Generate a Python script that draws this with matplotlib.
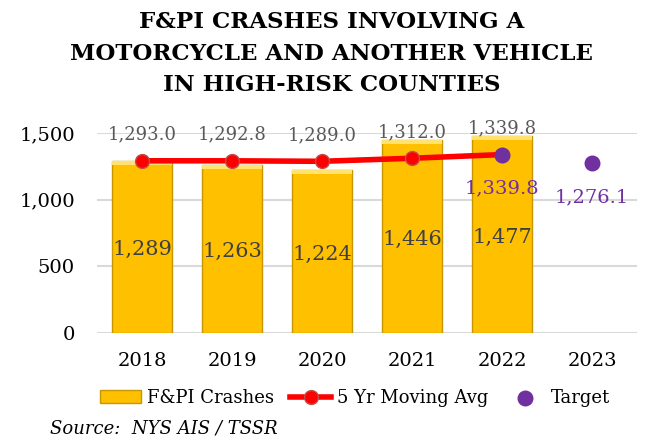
import numpy as np
import matplotlib.pyplot as plt

plt.rcParams['font.family'] = ['DejaVu Serif']

years = ['2018', '2019', '2020', '2021', '2022', '2023']
crashes = [1289, 1263, 1224, 1446, 1477]
moving_avg = [1293.0, 1292.8, 1289.0, 1312.0, 1339.8]
target_years = ['2022', '2023']
target = [1339.8, 1276.1]

fig = plt.figure(figsize=(6.7, 4.47), dpi=100)
ax = fig.add_axes([0.145, 0.255, 0.806, 0.447])

x = np.arange(len(years))
xc = x[:len(crashes)]
xt = np.array([years.index(y) for y in target_years])

ax.bar(xc, crashes, width=0.66, color='#FFC000', edgecolor='#C89600',
       linewidth=1, label='F&PI Crashes', zorder=2)
# lighter top bevel
ax.bar(xc, [30] * len(crashes), bottom=np.array(crashes) - 30, width=0.66,
       color='#FFE270', linewidth=0, zorder=2)

ax.plot(xc, moving_avg, color='#FF0000', linewidth=4, marker='o',
        markersize=10, markerfacecolor='#FF0000', markeredgecolor='#C0504D',
        label='5 Yr Moving Avg', zorder=3)
ax.scatter(xt, target, s=110, color='#7030A0', label='Target', zorder=4)

for xi, v in zip(xc, crashes):
    ax.text(xi, v / 2 - 20, f'{v:,}', ha='center', va='center', fontsize=15,
            color='#404040', zorder=5)
for xi, v in zip(xc, moving_avg):
    ax.text(xi, v + 130, f'{v:,.1f}', ha='center', va='bottom', fontsize=13,
            color='#595959', zorder=5)
for xi, v in zip(xt, target):
    ax.text(xi, v - 190, f'{v:,.1f}', ha='center', va='top', fontsize=14,
            color='#7030A0', zorder=5)

ax.set_ylim(0, 1500)
ax.set_xlim(-0.5, len(years) - 0.5)
ax.set_yticks([0, 500, 1000, 1500])
ax.set_yticklabels(['0', '500', '1,000', '1,500'], fontsize=14)
ax.set_xticks(x)
ax.set_xticklabels(years, fontsize=14)
ax.tick_params(axis='y', length=0, pad=16)
ax.tick_params(axis='x', length=0, pad=14)
ax.grid(axis='y', color='#D9D9D9', linewidth=1.5, zorder=0)
ax.set_axisbelow(True)
for s in ax.spines.values():
    s.set_visible(False)

fig.text(0.495, 0.975, 'F&PI CRASHES INVOLVING A\nMOTORCYCLE AND ANOTHER VEHICLE\nIN HIGH-RISK COUNTIES',
         ha='center', va='top', fontsize=16.5, fontweight='bold', linespacing=1.55)

handles, labels = ax.get_legend_handles_labels()
order = [labels.index(l) for l in ['F&PI Crashes', '5 Yr Moving Avg', 'Target']]
fig.legend([handles[i] for i in order], [labels[i] for i in order],
           loc='center', bbox_to_anchor=(0.53, 0.11), ncol=3, frameon=False,
           fontsize=13, handlelength=2.3, columnspacing=0.9, handletextpad=0.3)

fig.text(0.075, 0.03, 'Source:  NYS AIS / TSSR', fontsize=13, style='italic')

fig.savefig('out.png', dpi=100)
